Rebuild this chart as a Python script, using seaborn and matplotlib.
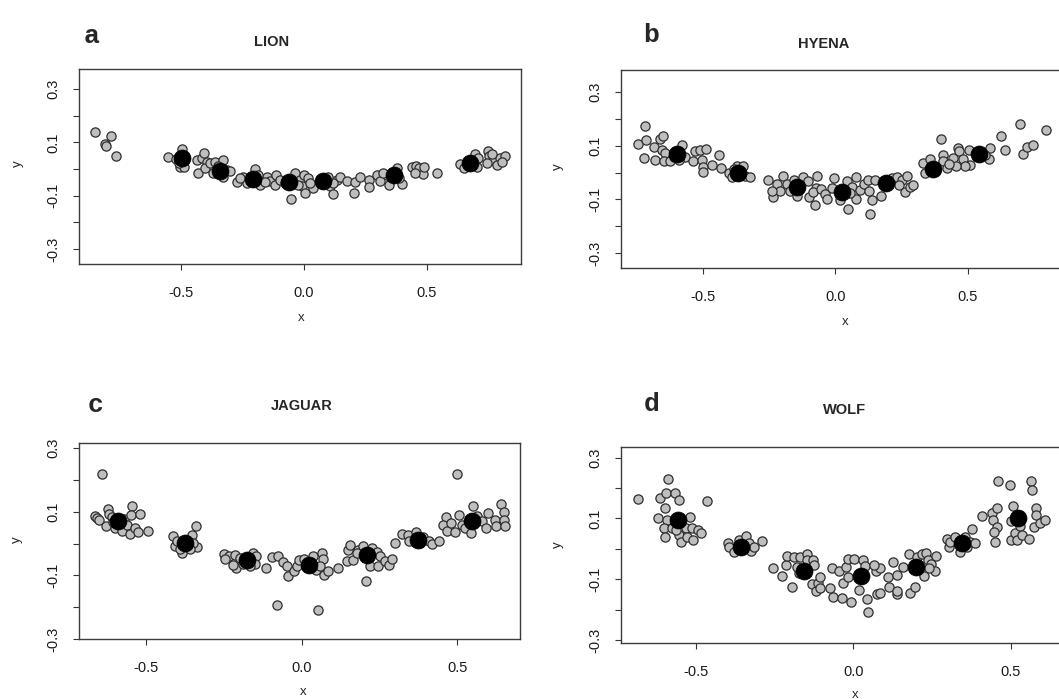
import matplotlib
matplotlib.use("Agg")
import matplotlib.pyplot as plt
import pandas as pd
import seaborn as sns

# ---- data: (x, y) of the grey points, and the black means ----
lion_pts = [
    (-0.850, 0.137), (-0.810, 0.092), (-0.785, 0.122), (-0.766, 0.050), (-0.805, 0.085),
    (-0.554, 0.044), (-0.520, 0.038), (-0.497, 0.074), (-0.504, 0.007), (-0.490, 0.009), (-0.510, 0.022),
    (-0.436, 0.034), (-0.416, 0.043), (-0.405, 0.059), (-0.396, 0.028), (-0.430, -0.016), (-0.402, 0.003),
    (-0.382, 0.022), (-0.362, 0.028), (-0.331, 0.034), (-0.314, -0.003), (-0.300, -0.009), (-0.328, -0.030),
    (-0.369, -0.016), (-0.348, 0.012),
    (-0.274, -0.047), (-0.247, -0.028), (-0.199, 0.000), (-0.233, -0.053), (-0.179, -0.059), (-0.152, -0.028),
    (-0.138, -0.043), (-0.114, -0.022), (-0.118, -0.059), (-0.159, -0.047), (-0.260, -0.034), (-0.186, -0.022),
    (-0.098, -0.040), (-0.077, -0.053), (-0.053, -0.113), (-0.037, -0.016), (-0.016, -0.040), (-0.010, -0.063),
    (0.004, -0.088), (0.000, -0.022), (0.018, -0.034), (0.038, -0.072), (0.024, -0.053), (-0.023, -0.059),
    (0.106, -0.065), (0.119, -0.093), (0.133, -0.040), (0.146, -0.031), (0.173, -0.043), (0.207, -0.050),
    (0.205, -0.088), (0.228, -0.028), (0.119, -0.053), (0.099, -0.028),
    (0.266, -0.040), (0.266, -0.069), (0.295, -0.022), (0.309, -0.043), (0.344, -0.059), (0.377, 0.003),
    (0.397, -0.056), (0.336, -0.022), (0.384, -0.034), (0.322, -0.016),
    (0.438, 0.007), (0.455, 0.012), (0.469, 0.003), (0.485, -0.018), (0.451, -0.013), (0.488, 0.007), (0.542, -0.013),
    (0.634, 0.019), (0.652, 0.003), (0.695, 0.057), (0.709, 0.041), (0.702, 0.009), (0.749, 0.066), (0.753, 0.047),
    (0.770, 0.034), (0.797, 0.041), (0.817, 0.047), (0.745, 0.022), (0.783, 0.016), (0.803, 0.028), (0.763, 0.056),
]
lion_means = [(-0.497, 0.041), (-0.341, -0.009), (-0.206, -0.037), (-0.060, -0.049),
              (0.075, -0.043), (0.367, -0.022), (0.675, 0.024)]

hyena_pts = [
    (-0.746, 0.107), (-0.717, 0.175), (-0.713, 0.120), (-0.721, 0.054), (-0.683, 0.095), (-0.679, 0.048),
    (-0.661, 0.125), (-0.651, 0.137), (-0.655, 0.083), (-0.642, 0.075), (-0.648, 0.044), (-0.623, 0.045),
    (-0.579, 0.102), (-0.567, 0.060), (-0.592, 0.048), (-0.610, 0.060),
    (-0.538, 0.045), (-0.529, 0.079), (-0.510, 0.085), (-0.487, 0.088), (-0.504, 0.048), (-0.500, 0.020),
    (-0.501, 0.004), (-0.466, 0.029), (-0.441, 0.066), (-0.431, 0.016),
    (-0.400, 0.000), (-0.390, -0.017), (-0.372, 0.025), (-0.350, 0.023), (-0.340, -0.014), (-0.321, -0.017),
    (-0.384, 0.013),
    (-0.253, -0.027), (-0.236, -0.091), (-0.221, -0.043), (-0.211, -0.070), (-0.196, -0.014), (-0.184, -0.042),
    (-0.171, -0.070), (-0.158, -0.029), (-0.146, -0.086), (-0.121, -0.017), (-0.102, -0.033), (-0.098, -0.091),
    (-0.077, -0.120), (-0.070, -0.012), (-0.073, -0.058), (-0.083, -0.074), (-0.240, -0.070),
    (-0.055, -0.061), (-0.039, -0.079), (-0.033, -0.099), (-0.005, -0.020), (-0.014, -0.058), (0.018, -0.104),
    (0.049, -0.136), (0.043, -0.033), (0.062, -0.052), (0.078, -0.017), (0.078, -0.099), (0.093, -0.066),
    (0.106, -0.042), (0.128, -0.070), (0.131, -0.153), (0.137, -0.101), (0.121, -0.029), (0.055, -0.076),
    (0.149, -0.027), (0.171, -0.089), (0.213, -0.021), (0.231, -0.017), (0.250, -0.027), (0.269, -0.014),
    (0.263, -0.074), (0.281, -0.052), (0.294, -0.045), (0.241, -0.045),
    (0.332, 0.035), (0.338, -0.002), (0.357, 0.050), (0.397, 0.125), (0.405, 0.066), (0.407, 0.042),
    (0.420, 0.017), (0.442, 0.054), (0.461, 0.091), (0.467, 0.079), (0.482, 0.050), (0.508, 0.029),
    (0.489, 0.025), (0.455, 0.023), (0.430, 0.033),
    (0.505, 0.083), (0.583, 0.091), (0.580, 0.050), (0.623, 0.135), (0.640, 0.083), (0.698, 0.182),
    (0.708, 0.070), (0.721, 0.095), (0.744, 0.104), (0.796, 0.160), (0.564, 0.066),
]
hyena_means = [(-0.598, 0.070), (-0.366, 0.000), (-0.146, -0.054), (0.026, -0.073),
               (0.191, -0.039), (0.369, 0.013), (0.543, 0.070)]

jaguar_pts = [
    (-0.643, 0.219),
    (-0.665, 0.087), (-0.657, 0.080), (-0.651, 0.075), (-0.629, 0.054), (-0.622, 0.108), (-0.619, 0.094),
    (-0.611, 0.083), (-0.600, 0.049), (-0.579, 0.041), (-0.571, 0.077), (-0.563, 0.059), (-0.547, 0.119),
    (-0.550, 0.091), (-0.552, 0.031), (-0.536, 0.049), (-0.520, 0.094), (-0.525, 0.035), (-0.495, 0.038),
    (-0.606, 0.067),
    (-0.415, 0.023), (-0.408, -0.009), (-0.402, 0.007), (-0.386, -0.030), (-0.391, -0.017), (-0.354, 0.028),
    (-0.340, 0.054), (-0.336, -0.011), (-0.348, 0.002), (-0.359, -0.017),
    (-0.250, -0.033), (-0.233, -0.040), (-0.247, -0.049), (-0.215, -0.035), (-0.211, -0.077), (-0.220, -0.066),
    (-0.198, -0.046), (-0.156, -0.030), (-0.147, -0.040), (-0.150, -0.063), (-0.166, -0.070), (-0.190, -0.063),
    (-0.116, -0.077),
    (-0.096, -0.043), (-0.077, -0.038), (-0.059, -0.059), (-0.046, -0.069), (-0.043, -0.101), (-0.025, -0.087),
    (-0.016, -0.072), (-0.008, -0.053), (-0.080, -0.194), (0.008, -0.049), (0.038, -0.040), (0.046, -0.082),
    (0.054, -0.210), (0.064, -0.030), (0.067, -0.049), (0.059, -0.069), (0.072, -0.098), (0.086, -0.087),
    (0.116, -0.077),
    (0.145, -0.054), (0.150, -0.019), (0.156, -0.004), (0.164, -0.053), (0.182, -0.019), (0.198, -0.009),
    (0.208, -0.119), (0.220, -0.070), (0.227, -0.014), (0.242, -0.025), (0.245, -0.069), (0.251, -0.040),
    (0.267, -0.056), (0.281, -0.066), (0.292, -0.049), (0.177, -0.030),
    (0.300, 0.002), (0.322, 0.031), (0.343, 0.028), (0.346, 0.007), (0.367, 0.035), (0.380, 0.002),
    (0.389, 0.020), (0.410, 0.009), (0.418, -0.001), (0.443, 0.007),
    (0.464, 0.085), (0.456, 0.059), (0.466, 0.038), (0.479, 0.064), (0.493, 0.035), (0.501, 0.219),
    (0.507, 0.091), (0.514, 0.059), (0.525, 0.049), (0.545, 0.033), (0.550, 0.119), (0.565, 0.087),
    (0.579, 0.070), (0.593, 0.049), (0.600, 0.096), (0.621, 0.075), (0.624, 0.056), (0.641, 0.125),
    (0.651, 0.098), (0.649, 0.073), (0.654, 0.056),
]
jaguar_means = [(-0.590, 0.070), (-0.375, 0.002), (-0.177, -0.053), (0.025, -0.068),
                (0.211, -0.037), (0.373, 0.012), (0.547, 0.070)]

wolf_pts = [
    (-0.684, 0.165),
    (-0.589, 0.229), (-0.614, 0.168), (-0.593, 0.184), (-0.567, 0.184), (-0.554, 0.162), (-0.596, 0.133),
    (-0.618, 0.100), (-0.591, 0.094), (-0.602, 0.067), (-0.596, 0.040), (-0.574, 0.067), (-0.554, 0.045),
    (-0.548, 0.023), (-0.532, 0.067), (-0.529, 0.040), (-0.517, 0.105), (-0.511, 0.067), (-0.507, 0.029),
    (-0.494, 0.061), (-0.482, 0.053), (-0.464, 0.158), (-0.564, 0.062),
    (-0.398, 0.020), (-0.394, 0.007), (-0.378, -0.010), (-0.363, 0.029), (-0.339, 0.042), (-0.332, 0.018),
    (-0.324, -0.006), (-0.316, 0.007), (-0.291, 0.026),
    (-0.254, -0.064), (-0.225, -0.088), (-0.214, -0.053), (-0.209, -0.023), (-0.193, -0.127), (-0.188, -0.026),
    (-0.169, -0.028), (-0.173, -0.081), (-0.178, -0.059), (-0.148, -0.017), (-0.146, -0.037), (-0.127, -0.037),
    (-0.123, -0.053), (-0.130, -0.116), (-0.117, -0.138), (-0.112, -0.111), (-0.106, -0.092), (-0.104, -0.130),
    (-0.074, -0.130), (-0.066, -0.064),
    (-0.064, -0.160), (-0.035, -0.163), (-0.046, -0.072), (-0.032, -0.114), (-0.024, -0.059), (-0.017, -0.035),
    (-0.017, -0.092), (-0.006, -0.174), (0.002, -0.032), (0.018, -0.135), (0.032, -0.037), (0.039, -0.056),
    (0.044, -0.166), (0.047, -0.207), (0.071, -0.072), (0.085, -0.064), (0.076, -0.149), (0.085, -0.144),
    (0.110, -0.092), (0.114, -0.127), (0.066, -0.053),
    (0.127, -0.042), (0.140, -0.086), (0.140, -0.149), (0.140, -0.138), (0.159, -0.059), (0.177, -0.017),
    (0.180, -0.144), (0.195, -0.127), (0.203, -0.026), (0.220, -0.017), (0.231, -0.015), (0.225, -0.089),
    (0.236, -0.037), (0.248, -0.050), (0.259, -0.072), (0.264, -0.024), (0.240, -0.064),
    (0.299, 0.031), (0.303, 0.005), (0.307, 0.023), (0.324, 0.040), (0.340, -0.010), (0.356, 0.040),
    (0.361, 0.007), (0.371, 0.023), (0.378, 0.065), (0.386, 0.020),
    (0.410, 0.107), (0.440, 0.118), (0.445, 0.096), (0.449, 0.023), (0.455, 0.133), (0.455, 0.072),
    (0.461, 0.222), (0.498, 0.209), (0.506, 0.140), (0.501, 0.092), (0.501, 0.029), (0.514, 0.051),
    (0.520, 0.029), (0.531, 0.075), (0.536, 0.045), (0.558, 0.031), (0.563, 0.222), (0.568, 0.195),
    (0.574, 0.072), (0.581, 0.133), (0.581, 0.111), (0.592, 0.084), (0.608, 0.096), (0.447, 0.056),
]
wolf_means = [(-0.556, 0.094), (-0.356, 0.007), (-0.155, -0.072), (0.025, -0.089),
              (0.198, -0.059), (0.344, 0.018), (0.523, 0.100)]

W, H = 1059, 699

# letter, title, points, means, axes box in px (left, top, right, bottom), xlim, ylim
panels = [
    ("a", "LION", lion_pts, lion_means, (79, 69, 521, 264), (-0.915, 0.882), (-0.356, 0.375)),
    ("b", "HYENA", hyena_pts, hyena_means, (621, 70, 1074, 268), (-0.809, 0.900), (-0.356, 0.383)),
    ("c", "JAGUAR", jaguar_pts, jaguar_means, (79, 443, 520, 639), (-0.716, 0.702), (-0.300, 0.316)),
    ("d", "WOLF", wolf_pts, wolf_means, (621, 447, 1080, 643), (-0.737, 0.720), (-0.310, 0.335)),
]
# text positions in px: letter baseline, title centre, y label, x label
letter_pos = [(92, 43), (651, 42), (96, 412), (652, 411)]
title_pos = [(272, 42), (824, 44), (302, 406), (845, 410)]
ylab_pos = [(18, 164), (558, 167), (17, 540), (558, 545)]
xlab_pos = [(301, 318), (845, 322), (303, 692), (855, 695)]

sns.set_style("white")
plt.rcParams["font.family"] = ["Liberation Sans", "DejaVu Sans"]

fig = plt.figure(figsize=(W / 100, H / 100), dpi=100)


def fx(px):
    return px / W


def fy(py):
    return 1 - py / H


for i, (letter, title, pts, means, box, xlim, ylim) in enumerate(panels):
    left, top, right, bottom = box
    ax = fig.add_axes([fx(left), fy(bottom), (right - left) / W, (bottom - top) / H])
    df = pd.DataFrame(pts, columns=["x", "y"])
    mdf = pd.DataFrame(means, columns=["x", "y"])
    sns.scatterplot(data=df, x="x", y="y", ax=ax, s=44, color="#bebebe",
                    edgecolor="#2e2e2e", linewidth=0.9, zorder=2)
    sns.scatterplot(data=mdf, x="x", y="y", ax=ax, s=150, color="black",
                    edgecolor="black", linewidth=0.5, zorder=3)
    ax.set_xlim(*xlim)
    ax.set_ylim(*ylim)
    ax.set_xlabel("")
    ax.set_ylabel("")
    ax.set_xticks([-0.5, 0.0, 0.5])
    ax.set_xticklabels(["-0.5", "0.0", "0.5"])
    yt = [-0.3, -0.2, -0.1, 0.0, 0.1, 0.2, 0.3]
    ax.set_yticks(yt)
    ax.set_yticklabels(["-0.3", "", "-0.1", "", "0.1", "", "0.3"],
                       rotation=90, va="center")
    ax.tick_params(axis="both", direction="out", length=4.5, width=0.8,
                   color="#333333", labelsize=10.5, labelcolor="#1a1a1a",
                   bottom=True, left=True)
    ax.tick_params(axis="x", pad=11)
    ax.tick_params(axis="y", pad=9)
    for sp in ax.spines.values():
        sp.set_visible(True)
        sp.set_color("#3c3c3c")
        sp.set_linewidth(1.0)

    fig.text(fx(letter_pos[i][0]), fy(letter_pos[i][1]), letter,
             family=["Liberation Mono", "DejaVu Sans Mono"], weight="bold",
             fontsize=19, ha="center", va="baseline")
    fig.text(fx(title_pos[i][0]), fy(title_pos[i][1]), title, weight="bold",
             fontsize=10.5, ha="center", va="center")
    fig.text(fx(ylab_pos[i][0]), fy(ylab_pos[i][1]), "y", fontsize=9.5,
             rotation=90, ha="center", va="center")
    fig.text(fx(xlab_pos[i][0]), fy(xlab_pos[i][1]), "x", fontsize=9.5,
             ha="center", va="center")

fig.savefig("out.png", dpi=100)
